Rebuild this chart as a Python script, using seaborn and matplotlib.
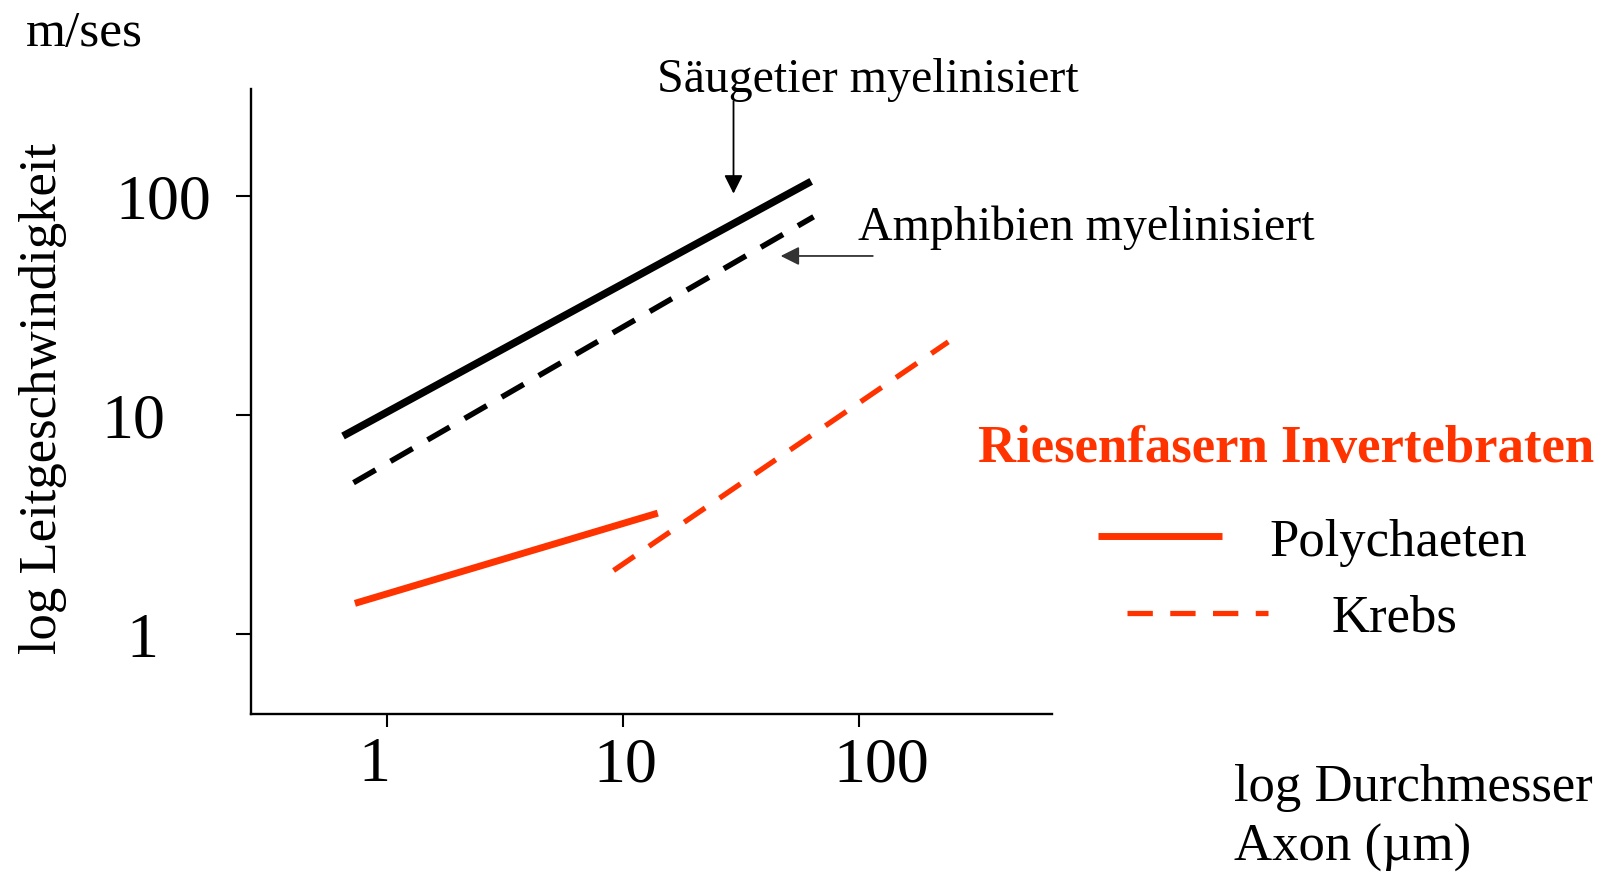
import matplotlib
matplotlib.use('Agg')
import matplotlib.pyplot as plt
import matplotlib.transforms as mtransforms
import seaborn as sns
import numpy as np

# Data (log-log endpoints of each relation)
saeuger_x = [0.65, 62.5]
saeuger_y = [8.0, 116.0]
amphib_x = [0.72, 64.0]
amphib_y = [4.9, 80.0]
poly_x = [0.73, 14.0]
poly_y = [1.38, 3.56]
krebs_x = [9.1, 238.0]
krebs_y = [1.95, 21.5]

x_ticks = [1, 10, 100]
y_ticks = [1, 10, 100]
tick_labels = ['1', '10', '100']

red = '#FF3300'

sns.set_style('white')
plt.rcParams['font.family'] = ['Liberation Serif', 'DejaVu Serif']
plt.rcParams['text.color'] = 'black'
plt.rcParams['axes.labelcolor'] = 'black'
plt.rcParams['xtick.color'] = 'black'
plt.rcParams['ytick.color'] = 'black'

fig = plt.figure(figsize=(16.06, 8.79), dpi=100)
ax = fig.add_axes([0.1563, 0.1866, 0.655 - 0.1563, 0.8976 - 0.1866])

sns.lineplot(x=saeuger_x, y=saeuger_y, ax=ax, color='black', lw=5.4,
             solid_capstyle='butt')
sns.lineplot(x=amphib_x, y=amphib_y, ax=ax, color='black', lw=4.0,
             linestyle=(0, (4.6, 3.1)), dash_capstyle='butt')
l_poly = sns.lineplot(x=poly_x, y=poly_y, ax=ax, color=red, lw=5.0,
                      solid_capstyle='butt', label='Polychaeten').lines[-1]
l_krebs = sns.lineplot(x=krebs_x, y=krebs_y, ax=ax, color=red, lw=3.8,
                       linestyle=(0, (4.8, 3.3)), dash_capstyle='butt',
                       label='Krebs').lines[-1]

ax.set_xscale('log')
ax.set_yscale('log')
ax.set_xlim(0.265, 654)
ax.set_ylim(0.432, 306)
ax.set_xticks(x_ticks)
ax.set_xticklabels(tick_labels)
ax.set_yticks(y_ticks)
ax.set_yticklabels(tick_labels)
ax.minorticks_off()

for s in ['top', 'right']:
    ax.spines[s].set_visible(False)
for s in ['left', 'bottom']:
    ax.spines[s].set_linewidth(1.7)
    ax.spines[s].set_color('black')

ax.tick_params(axis='y', direction='out', length=11, width=1.5, pad=18,
               labelsize=46, left=True)
ax.tick_params(axis='x', direction='out', length=9, width=1.5, pad=7,
               labelsize=46, bottom=True)

# the hand-drawn original places the tick labels a little irregularly
y_pads = [38 + 18, 33 + 18, 18]
for tick, p in zip(ax.yaxis.get_major_ticks(), y_pads):
    tick.set_pad(p)
x_shift = [-13, 2, 22]
for lab, dx in zip(ax.get_xticklabels(), x_shift):
    off = mtransforms.ScaledTranslation(dx / 100, 0, fig.dpi_scale_trans)
    lab.set_transform(lab.get_transform() + off)

# arrows and labels for the vertebrate lines
ax.annotate('', xy=(29.3, 102), xytext=(29.3, 269), annotation_clip=False,
            arrowprops=dict(arrowstyle='-|>', color='black', lw=1.3,
                            mutation_scale=28, shrinkA=0, shrinkB=0))
ax.text(109, 340, 'Säugetier myelinisiert', fontsize=34.5, ha='center',
        va='center')
ax.annotate('', xy=(46.4, 53), xytext=(114, 53), annotation_clip=False,
            arrowprops=dict(arrowstyle='-|>', color='#333333', lw=1.3,
                            mutation_scale=28, shrinkA=0, shrinkB=0))
ax.text(99, 72, 'Amphibien myelinisiert', fontsize=34.5, ha='left',
        va='center')

ax.set_ylabel('log Leitgeschwindigkeit', fontsize=38, va='center')
ax.yaxis.set_label_coords(-0.26, 0.506)
ax.set_xlabel('log Durchmesser\nAxon (µm)', fontsize=38, ha='left',
              va='center', linespacing=1.3)
ax.xaxis.set_label_coords(1.227, -0.165)

fig.text(0.016, 0.962, 'm/ses', fontsize=37, ha='left', va='center')

# legend for the invertebrate giant fibres
fig.text(0.609, 0.489, 'Riesenfasern Invertebraten', fontsize=38,
         fontweight='bold', color=red, ha='left', va='center')
leg1 = ax.legend(handles=[l_poly], labels=['Polychaeten'], frameon=False,
                 fontsize=38, handlelength=2.35, handletextpad=0.9,
                 borderpad=0, borderaxespad=0, loc='center left',
                 bbox_to_anchor=(0.6837, 0.3823),
                 bbox_transform=fig.transFigure)
ax.add_artist(leg1)
ax.legend(handles=[l_krebs], labels=['Krebs'], frameon=False,
          fontsize=38, handlelength=2.68, handletextpad=1.19,
          borderpad=0, borderaxespad=0, loc='center left',
          bbox_to_anchor=(0.7016, 0.2958),
          bbox_transform=fig.transFigure)

fig.savefig('out.png', dpi=100)
